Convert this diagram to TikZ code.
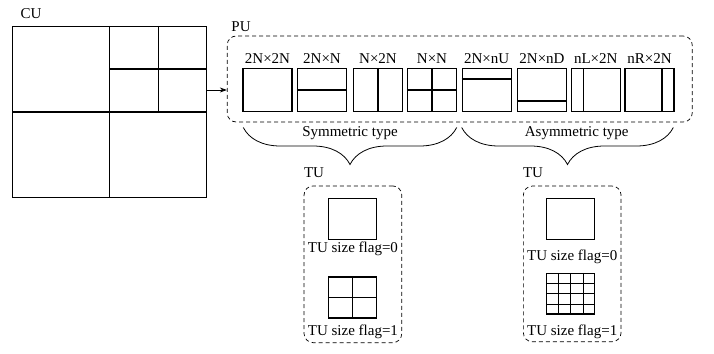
\documentclass[tikz,border=0pt]{standalone}
\usepackage{fontspec}
\setmainfont{Liberation Serif}
\usetikzlibrary{arrows.meta,decorations.pathreplacing,calc}
\begin{document}
\begin{tikzpicture}[x=1pt, y=-1pt,
  every node/.style={font=\fontsize{15}{17}\selectfont, inner sep=0pt},
  blk/.style={draw, line width=1.2pt, minimum width=49pt, minimum height=43pt},
  sq/.style={draw, line width=1.2pt, minimum width=48pt, minimum height=41pt},
  frame/.style={draw, dash pattern=on 4pt off 3pt, line width=0.7pt, rounded corners=9pt},
  part/.style={line width=1.2pt},
  brc/.style={decorate, decoration={brace, mirror, amplitude=37pt}, line width=0.8pt}]
  \useasboundingbox (0,0) rectangle (714,353);
  % CU
  \node[draw, line width=1.2pt, minimum width=194pt, minimum height=171pt] (cu) at (109.7,112) {};
  \node (culbl) at (31,14) {CU};
  \draw[part] (cu.north) -- (cu.south);
  \draw[part] (cu.west) -- (cu.east);
  \draw[part] ($(cu.north)!0.5!(cu.north east)$) -- ($(cu.center)!0.5!(cu.east)$);
  \draw[part] ($(cu.north)!0.5!(cu.center)$) -- ($(cu.north east)!0.5!(cu.east)$);
  % PU
  \node[frame, minimum width=465pt, minimum height=86pt] (pu) at (459.7,79) {};
  \node (pulbl) at (241,27) {PU};
  \node[blk] (pu1) at (267.5,90) {};
  \node[blk] (pu2) at (322,90) {};
  \node[blk] (pu3) at (378,90) {};
  \node[blk] (pu4) at (432,90) {};
  \node[blk] (pu5) at (486.7,90) {};
  \node[blk] (pu6) at (542,90) {};
  \node[blk] (pu7) at (595.8,90) {};
  \node[blk] (pu8) at (649.5,90) {};
  \draw[part] (pu2.west) -- (pu2.east);
  \draw[part] (pu3.north) -- (pu3.south);
  \draw[part] (pu4.west) -- (pu4.east);
  \draw[part] (pu4.north) -- (pu4.south);
  \draw[part] ($(pu5.north west)!0.25!(pu5.south west)$) -- ($(pu5.north east)!0.25!(pu5.south east)$);
  \draw[part] ($(pu6.north west)!0.75!(pu6.south west)$) -- ($(pu6.north east)!0.75!(pu6.south east)$);
  \draw[part] ($(pu7.north west)!0.25!(pu7.north east)$) -- ($(pu7.south west)!0.25!(pu7.south east)$);
  \draw[part] ($(pu8.north west)!0.75!(pu8.north east)$) -- ($(pu8.south west)!0.75!(pu8.south east)$);
  \foreach \n/\t in {1/2N×2N, 2/2N×N, 3/N×2N, 4/N×N,
                     5/2N×nU, 6/2N×nD, 7/nL×2N, 8/nR×2N}
    \node[anchor=base] (lbl\n) at ([yshift=4.5pt]pu\n.north) {\t};
  \draw[-{Stealth[length=7pt,width=5pt]}, line width=0.7pt] (cu.east |- pu1) -- (pu.west |- pu1);
  % braces
  \coordinate (sa) at (243.3,127.5);
  \coordinate (sb) at (456.7,127.5);
  \coordinate (aa) at (461.7,127.5);
  \coordinate (ab) at (673.3,127.5);
  \draw[brc] (sa) -- (sb);
  \draw[brc] (aa) -- (ab);
  \node (sym) at (350,133.5) {Symmetric type};
  \node (asym) at (576.7,133.5) {Asymmetric type};
  % TU, symmetric
  \node[frame, minimum width=97.7pt, minimum height=156.7pt] (tua) at (352.9,264.3) {};
  \node (tualbl) at (314,173) {TU};
  \node[sq] (t1) at (352.5,219) {};
  \node[sq] (t2) at (352.5,297.5) {};
  \draw[part] (t2.north) -- (t2.south);
  \draw[part] (t2.west) -- (t2.east);
  \node (f1) at (352.9,249.3) {TU size flag=0};
  \node (f2) at (352.9,331.7) {TU size flag=1};
  % TU, asymmetric
  \node[frame, minimum width=97.7pt, minimum height=155.7pt] (tub) at (572.2,263.9) {};
  \node (tublbl) at (533,173) {TU};
  \node[sq] (t3) at (570.8,219) {};
  \node[sq, minimum height=40.7pt] (t4) at (570.8,293.7) {};
  \foreach \k in {0.25,0.5,0.75} {
    \draw[part] ($(t4.north west)!\k!(t4.north east)$) -- ($(t4.south west)!\k!(t4.south east)$);
    \draw[part] ($(t4.north west)!\k!(t4.south west)$) -- ($(t4.north east)!\k!(t4.south east)$);
  }
  \node (f3) at (572.2,256.7) {TU size flag=0};
  \node (f4) at (572.2,331.7) {TU size flag=1};
\end{tikzpicture}
\end{document}
